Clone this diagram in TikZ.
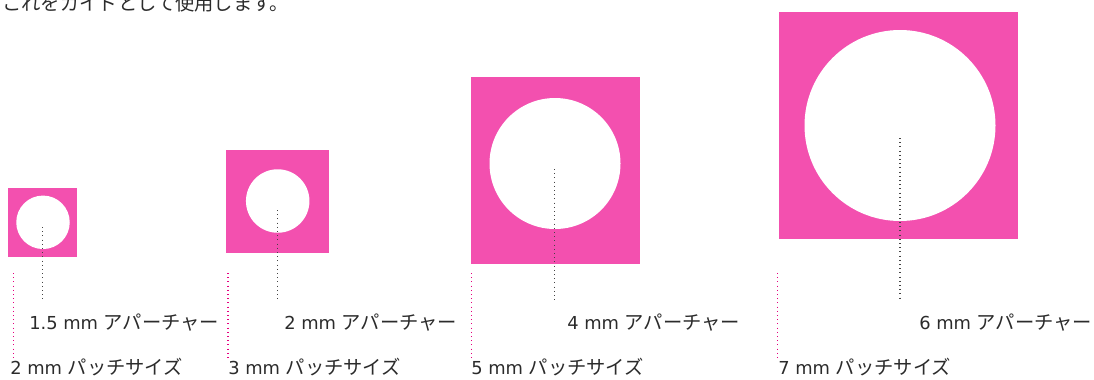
\documentclass[tikz,border=0pt]{standalone}
\usepackage{fontspec}
\setmainfont{DejaVu Sans}
\newfontfamily\jpfont{Noto Sans CJK JP}[Scale=1.08]
\usetikzlibrary{positioning}
\definecolor{patchpink}{HTML}{F350AF}
\definecolor{leadgray}{HTML}{444444}
\definecolor{leadpink}{HTML}{E5007F}
\definecolor{labeltext}{HTML}{2B2B2B}

\begin{document}
\begin{tikzpicture}[x=0.75pt, y=-0.75pt,
  patch/.style={rectangle, fill=patchpink, inner sep=0pt},
  hole/.style={circle, fill=white, inner sep=0pt},
  leadgray/.style={draw=leadgray, line width=0.8pt, dash pattern=on 0.8pt off 2.35pt},
  leadpink/.style={draw=leadpink, line width=0.8pt, dash pattern=on 0.8pt off 2.35pt},
  lbl/.style={anchor=base west, inner sep=0pt, text=labeltext, font=\fontsize{13.4}{16}\selectfont}
]
\clip (0,0) rectangle (1094,379);
\node[lbl] (guide) at (2,10) {\jpfont これをガイドとして使用します。};
% patches and apertures
\node[patch, minimum width=69*0.75pt, minimum height=69*0.75pt] (p1) at (42.5,222.5) {};
\node[hole, minimum size=53.5*0.75pt] (h1) at (43,222.3) {};
\node[patch, minimum width=103*0.75pt, minimum height=103*0.75pt] (p2) at (277.5,201.5) {};
\node[hole, minimum size=63.5*0.75pt] (h2) at (277.7,201) {};
\node[patch, minimum width=169*0.75pt, minimum height=187*0.75pt] (p3) at (555.5,170.5) {};
\node[hole, minimum size=131*0.75pt] (h3) at (555,163.5) {};
\node[patch, minimum width=239*0.75pt, minimum height=227*0.75pt] (p4) at (898.5,125.5) {};
\node[hole, minimum size=191*0.75pt] (h4) at (900,125.5) {};
% labels
\node[lbl] (a1) at (29,329) {1.5 mm {\jpfont アパーチャー}};
\node[lbl] (a2) at (284,329) {2 mm {\jpfont アパーチャー}};
\node[lbl] (a3) at (567,329) {4 mm {\jpfont アパーチャー}};
\node[lbl] (a4) at (919,329) {6 mm {\jpfont アパーチャー}};
\node[lbl] (s1) at (10,374) {2 mm {\jpfont パッチサイズ}};
\node[lbl] (s2) at (228,374) {3 mm {\jpfont パッチサイズ}};
\node[lbl] (s3) at (471,374) {5 mm {\jpfont パッチサイズ}};
\node[lbl] (s4) at (778,374) {7 mm {\jpfont パッチサイズ}};
% leader lines
\coordinate (g1a) at (42.7,227); \coordinate (g1b) at (42.7,300);
\coordinate (g2a) at (277.3,210); \coordinate (g2b) at (277.3,301);
\coordinate (g3a) at (554.3,169); \coordinate (g3b) at (554.3,300);
\coordinate (g4a) at (900,138); \coordinate (g4b) at (900,299);
\coordinate (m1a) at (13.7,273); \coordinate (m1b) at (13.7,358);
\coordinate (m2a) at (228,273); \coordinate (m2b) at (228,358);
\coordinate (m3a) at (471.7,273); \coordinate (m3b) at (471.7,358);
\coordinate (m4a) at (777.7,273); \coordinate (m4b) at (777.7,358);
\draw[leadgray] (g1a) -- (g1b); \draw[leadgray] (g2a) -- (g2b);
\draw[leadgray] (g3a) -- (g3b); \draw[leadgray] (g4a) -- (g4b);
\draw[leadpink] (m1a) -- (m1b); \draw[leadpink] (m2a) -- (m2b);
\draw[leadpink] (m3a) -- (m3b); \draw[leadpink] (m4a) -- (m4b);
\end{tikzpicture}
\end{document}
